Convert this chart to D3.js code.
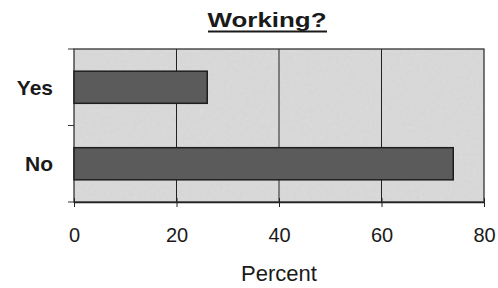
<!DOCTYPE html>
<html>
<head>
<meta charset="utf-8">
<script src="https://cdn.jsdelivr.net/npm/d3@7"></script>
<style>
	body { margin: 0; background: #fff; }
	text { font-family: "Liberation Sans", Arial, sans-serif; fill: #1a1a1a; }
</style>
</head>
<body>
<svg id="chart" width="498" height="288"></svg>
<script>
const categories = ["Yes", "No"];
const values = [26, 74];
const ticks = [0, 20, 40, 60, 80];
const title = "Working?";
const xLabel = "Percent";

const svg = d3.select("#chart");
const plotLeft = 74, plotRight = 484, plotTop = 49, plotBottom = 202;

const x = d3.scaleLinear().domain([0, 80]).range([plotLeft, plotRight]);
const y = d3.scaleBand().domain(categories).range([plotTop, plotBottom]).paddingInner(0.58).paddingOuter(0.29);

// textured gray background
const defs = svg.append("defs");
const f = defs.append("filter").attr("id", "grain").attr("x", 0).attr("y", 0).attr("width", 1).attr("height", 1);
f.append("feTurbulence").attr("type", "fractalNoise").attr("baseFrequency", 0.3).attr("numOctaves", 2).attr("seed", 3).attr("result", "n");
f.append("feColorMatrix").attr("type", "matrix")
	.attr("values", "0 0 0 0 0.55  0 0 0 0 0.55  0 0 0 0 0.55  0 0 0 0.3 -0.05").attr("result", "g");
f.append("feComposite").attr("in", "g").attr("in2", "SourceGraphic").attr("operator", "atop");

svg.append("rect")
	.attr("x", plotLeft).attr("y", plotTop)
	.attr("width", plotRight - plotLeft).attr("height", plotBottom - plotTop)
	.attr("fill", "#dadada")
	.attr("filter", "url(#grain)");

// gridlines
svg.append("g")
	.selectAll("line")
	.data(ticks.slice(1, -1))
	.join("line")
	.attr("x1", (d) => x(d)).attr("x2", (d) => x(d))
	.attr("y1", plotTop).attr("y2", plotBottom)
	.attr("stroke", "#222").attr("stroke-width", 1);

// frame
svg.append("rect")
	.attr("x", plotLeft).attr("y", plotTop)
	.attr("width", plotRight - plotLeft).attr("height", plotBottom - plotTop)
	.attr("fill", "none").attr("stroke", "#333").attr("stroke-width", 1.3);

// bars
svg.append("g")
	.selectAll("rect")
	.data(values)
	.join("rect")
	.attr("x", x(0))
	.attr("y", (d, i) => y(categories[i]))
	.attr("width", (d) => x(d) - x(0))
	.attr("height", y.bandwidth())
	.attr("fill", "#5b5b5b")
	.attr("stroke", "#1e1e1e")
	.attr("stroke-width", 1.5);

// x axis
const xAxis = svg.append("g")
	.attr("transform", `translate(0,${plotBottom})`)
	.call(d3.axisBottom(x).tickValues(ticks).tickSize(5).tickSizeOuter(0).tickPadding(21));
xAxis.select(".domain").attr("stroke", "#222").attr("stroke-width", 1.5);
xAxis.selectAll(".tick line").attr("stroke", "#222").attr("y1", -4);
xAxis.selectAll("text").attr("font-size", 20).attr("fill", "#1a1a1a");

// y axis (boundary ticks + labels)
const bounds = [plotTop, (plotTop + plotBottom) / 2, plotBottom];
svg.append("g")
	.selectAll("line")
	.data(bounds)
	.join("line")
	.attr("x1", plotLeft - 6).attr("x2", plotLeft)
	.attr("y1", (d) => d).attr("y2", (d) => d)
	.attr("stroke", "#333");

svg.append("g")
	.selectAll("text")
	.data(categories)
	.join("text")
	.attr("x", 53)
	.attr("y", (d) => y(d) + y.bandwidth() / 2)
	.attr("dy", "0.36em")
	.attr("text-anchor", "end")
	.attr("font-size", 21)
	.attr("font-weight", "bold")
	.text((d) => d);

// title
svg.append("text")
	.attr("x", 267).attr("y", 27)
	.attr("text-anchor", "middle")
	.attr("font-size", 20)
	.attr("font-weight", "bold")
	.attr("textLength", 119)
	.attr("lengthAdjust", "spacingAndGlyphs")
	.text(title);
svg.append("line")
	.attr("x1", 208).attr("x2", 327)
	.attr("y1", 31.5).attr("y2", 31.5)
	.attr("stroke", "#1a1a1a").attr("stroke-width", 2);

// axis label
svg.append("text")
	.attr("x", 279).attr("y", 281)
	.attr("text-anchor", "middle")
	.attr("font-size", 22)
	.text(xLabel);
</script>
</body>
</html>
